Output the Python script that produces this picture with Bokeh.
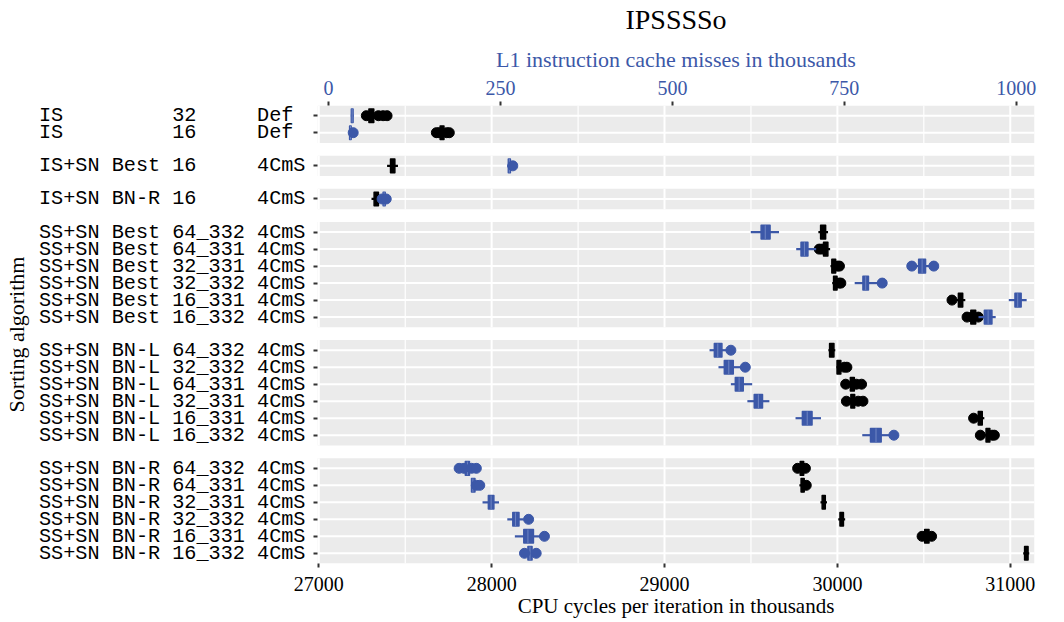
from bokeh.plotting import figure
from bokeh.models import Range1d, LinearAxis, FixedTicker, CustomJSTickFormatter, Title
from bokeh.embed import file_html
from bokeh.resources import INLINE

# ---------------- data ----------------
algorithms = ["IS", "IS", "IS+SN Best", "IS+SN BN-R",
              "SS+SN Best", "SS+SN Best", "SS+SN Best", "SS+SN Best", "SS+SN Best", "SS+SN Best",
              "SS+SN BN-L", "SS+SN BN-L", "SS+SN BN-L", "SS+SN BN-L", "SS+SN BN-L", "SS+SN BN-L",
              "SS+SN BN-R", "SS+SN BN-R", "SS+SN BN-R", "SS+SN BN-R", "SS+SN BN-R", "SS+SN BN-R"]
block_sizes = ["32", "16", "16", "16",
               "64_332", "64_331", "32_331", "32_332", "16_331", "16_332",
               "64_332", "32_332", "64_331", "32_331", "16_331", "16_332",
               "64_332", "64_331", "32_331", "32_332", "16_331", "16_332"]
variants = ["Def", "Def", "4CmS", "4CmS"] + ["4CmS"] * 18
panel_of_row = [0, 0, 1, 2] + [3] * 6 + [4] * 6 + [5] * 6

# CPU cycles per iteration (thousands)
cyc_lo  = [27265, 27680, 27395, 27305, 29890, 29885, 29960, 29970, 30665, 30750,
           29948, 29995, 30045, 30052, 30790, 30827, 29770, 29780, 29902, 30005, 30490, 31075]
cyc_q1  = [27290, 27702, 27415, 27320, 29903, 29920, 29968, 29978, 30700, 30772,
           29955, 29998, 30075, 30078, 30815, 30860, 29785, 29790, 29912, 30015, 30505, 31083]
cyc_med = [27302, 27712, 27427, 27332, 29917, 29932, 29978, 29988, 30712, 30785,
           29967, 30008, 30085, 30088, 30827, 30871, 29795, 29798, 29921, 30025, 30518, 31093]
cyc_q3  = [27318, 27724, 27440, 27345, 29932, 29945, 29990, 29998, 30725, 30800,
           29980, 30020, 30098, 30100, 30838, 30882, 29805, 29808, 29930, 30035, 30530, 31103]
cyc_hi  = [27400, 27755, 27458, 27355, 29946, 29958, 30010, 30020, 30740, 30815,
           29988, 30055, 30140, 30148, 30850, 30908, 29815, 29815, 29940, 30045, 30545, 31110]
cyc_pts = [[27275, 27345, 27372, 27395], [27680, 27695, 27740, 27755], [], [],
           [], [29895, 29912], [30000, 30012], [30010, 30020], [30663], [30750, 30780, 30815],
           [], [30040, 30055], [30048, 30110, 30140], [30052, 30120, 30148], [30788],
           [30827, 30895, 30908],
           [29770, 29815], [29820], [], [], [30490, 30515, 30545], []]

# L1 instruction cache misses (thousands)
mis_lo  = [32.5, 30, 260, 77, 614, 680, 850, 765, 989, 945,
           554, 567, 585, 609, 679, 776, 190, 207, 224, 260, 271, 284]
mis_q1  = [33.3, 30.8, 261.5, 79.5, 629, 687, 858, 777, 998, 953.5,
           561, 575.5, 591.5, 619, 689, 788, 199, 208, 232.5, 268, 284, 290]
mis_med = [34.5, 32, 263, 81, 635, 692, 863, 781, 1002, 959,
           566, 582, 597, 625, 696, 796, 202, 210, 236.5, 272, 290, 293]
mis_q3  = [35.8, 33, 264.5, 82.5, 642, 697, 868, 785, 1007, 964.5,
           572, 588.5, 603, 631, 703, 803.5, 205, 213, 240.5, 277, 298, 296]
mis_hi  = [36.5, 34, 266, 84, 655, 709, 878, 800, 1015, 970,
           578, 600, 616, 641, 716, 815, 215, 221, 248, 284, 308, 303]
mis_pts = [[], [36], [268], [78, 84],
           [], [], [848, 880], [805], [], [],
           [585], [606], [], [], [], [822],
           [190, 197, 208, 215], [215, 220], [], [291], [314], [285, 302]]

cyc_ticks = [27000, 28000, 29000, 30000, 31000]
mis_ticks = [0, 250, 500, 750, 1000]

# ---------------- layout helpers ----------------
BLUE = "#3C58A8"
PANEL = "#EBEBEB"
PAD, GAP, BH = 0.6, 0.75, 0.4

sizes = [panel_of_row.count(k) for k in range(6)]
y_centers, panel_tops, panel_bottoms = [], [], []
yy = 0.0
for n in sizes:
    panel_tops.append(yy)
    for i in range(n):
        y_centers.append(yy + PAD + i)
    yy += n - 1 + 2 * PAD
    panel_bottoms.append(yy)
    yy += GAP
total = panel_bottoms[-1]

labels = [f"{a:<10} {b:<6} {v:<4}".replace(" ", "\u00a0")
          for a, b, v in zip(algorithms, block_sizes, variants)]

X0, X1 = 26992.5, 31140.3
M0, M1 = -15.9, 1026.4

p = figure(width=1048, height=626, output_backend="svg", toolbar_location=None,
           x_range=Range1d(X0, X1), y_range=Range1d(total, 0),
           min_border_left=315, min_border_right=14, min_border_top=109, min_border_bottom=59)
p.styles = {"margin-top": "-4px"}
p.extra_x_ranges = {"misses": Range1d(M0, M1)}
p.background_fill_color = "white"
p.border_fill_color = "white"
p.outline_line_color = None
p.grid.visible = False

# panels
p.quad(left=[X0] * 6, right=[X1] * 6, top=panel_tops, bottom=panel_bottoms,
       fill_color=PANEL, line_color=None)
# grid lines
minor = [27500, 28500, 29500, 30500]
for k in range(6):
    p.segment(x0=minor, x1=minor, y0=[panel_tops[k]] * 4, y1=[panel_bottoms[k]] * 4,
              line_color="white", line_width=1.2)
    p.segment(x0=cyc_ticks, x1=cyc_ticks, y0=[panel_tops[k]] * 5, y1=[panel_bottoms[k]] * 5,
              line_color="white", line_width=2)
p.segment(x0=[X0] * len(y_centers), x1=[X1] * len(y_centers), y0=y_centers, y1=y_centers,
          line_color="white", line_width=2)


def draw(lo, q1, med, q3, hi, pts, color, medc, rng):
    kw = {} if rng is None else {"x_range_name": rng}
    p.segment(x0=lo, x1=hi, y0=y_centers, y1=y_centers, line_color=color, line_width=2.2, **kw)
    p.quad(left=q1, right=q3, top=[y - BH for y in y_centers], bottom=[y + BH for y in y_centers],
           fill_color=color, line_color=color, line_width=1.5, line_join="round", **kw)
    p.segment(x0=med, x1=med, y0=[y - BH for y in y_centers], y1=[y + BH for y in y_centers],
              line_color=medc, line_width=1, **kw)
    xs, ys = [], []
    for yc, row in zip(y_centers, pts):
        for v in row:
            xs.append(v)
            ys.append(yc)
    p.scatter(x=xs, y=ys, size=10, marker="circle", fill_color=color, line_color=color, **kw)


draw(cyc_lo, cyc_q1, cyc_med, cyc_q3, cyc_hi, cyc_pts, "black", "black", None)
draw(mis_lo, mis_q1, mis_med, mis_q3, mis_hi, mis_pts, BLUE, "#7086C4", "misses")

# axes
SERIF = "Liberation Serif"
xa = p.xaxis[0]
xa.ticker = FixedTicker(ticks=cyc_ticks)
xa.major_label_text_font = SERIF
xa.major_label_text_font_size = "20px"
xa.major_label_text_color = "black"
xa.major_label_standoff = 9

xtitle = Title(text="CPU cycles per iteration in thousands", align="center",
               text_font=SERIF, text_font_size="21px", text_font_style="normal",
               text_color="black", standoff=-3)
p.add_layout(xtitle, "below")

top = LinearAxis(x_range_name="misses", ticker=FixedTicker(ticks=mis_ticks),
                 axis_label="L1 instruction cache misses in thousands")
top.axis_label_text_font = SERIF
top.axis_label_text_font_size = "22px"
top.axis_label_text_font_style = "normal"
top.axis_label_text_color = BLUE
top.axis_label_standoff = 6
top.major_label_text_font = SERIF
top.major_label_text_font_size = "20px"
top.major_label_text_color = BLUE
top.major_label_standoff = 7
p.add_layout(top, "above")

ya = p.yaxis[0]
ya.ticker = FixedTicker(ticks=y_centers)
ya.formatter = CustomJSTickFormatter(args=dict(centers=y_centers, labs=labels), code="""
let best = 0;
for (let i = 0; i < centers.length; i++) {
  if (Math.abs(centers[i] - tick) < Math.abs(centers[best] - tick)) best = i;
}
return labs[best];
""")
ya.major_label_text_font = "Liberation Mono"
ya.major_label_text_font_size = "20.2px"
ya.major_label_text_color = "black"
ya.major_label_standoff = 8
ya.axis_label = "Sorting algorithm"
ya.axis_label_text_font = SERIF
ya.axis_label_text_font_size = "22px"
ya.axis_label_text_font_style = "normal"
ya.axis_label_text_color = "black"
ya.axis_label_standoff = 7

for ax in (xa, top, ya):
    ax.axis_line_color = None
    ax.minor_tick_line_color = None
    ax.major_tick_in = 0
    ax.major_tick_out = 4
    ax.major_tick_line_color = "#333333"
    ax.major_tick_line_width = 2

p.title.text = "IPSSSSo"
p.title.align = "center"
p.title.vertical_align = "top"
p.title.text_font = SERIF
p.title.text_font_size = "28px"
p.title.text_font_style = "normal"
p.title.text_color = "black"
p.title.standoff = 14

open("out.html", "w").write(file_html(p, INLINE))
